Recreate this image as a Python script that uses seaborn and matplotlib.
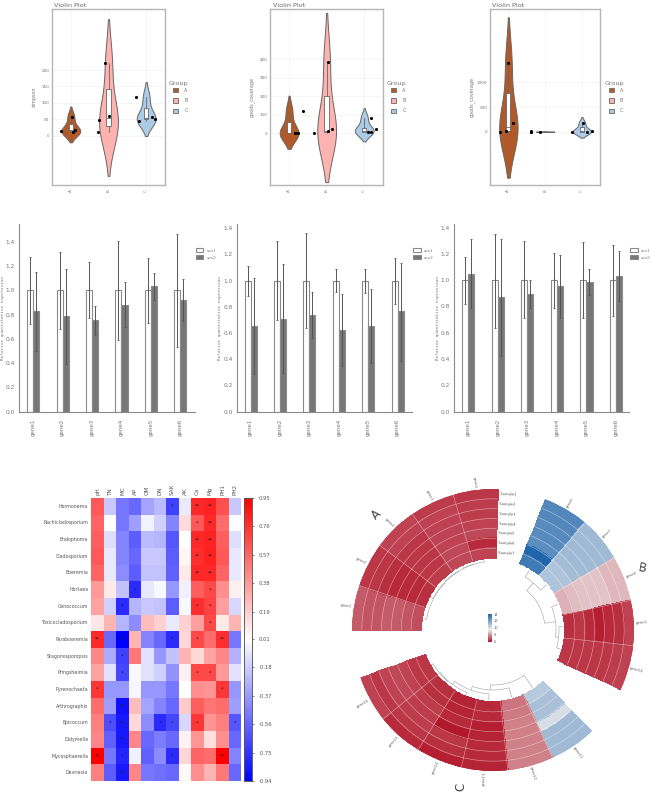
import numpy as np
import pandas as pd
import matplotlib
matplotlib.use("Agg")
import matplotlib.pyplot as plt
from matplotlib.colors import LinearSegmentedColormap, Normalize
from matplotlib.cm import ScalarMappable
from matplotlib.patches import Patch
import seaborn as sns

# ---------- data: violins ----------
groups = ["A", "B", "C"]
group_colors = ["#b15928", "#ffb3b0", "#abcbe6"]
v1_label = "simpson"
v1_values = [[14, 58, 11, 17], [223, 48, 10, 60], [117, 46, 56, 51]]
v1_jitter = [[-.27, .03, .05, .11], [-.10, -.24, -.28, .01], [-.28, -.19, .15, .23]]
v1_box = [[14, 17, 36, 11, 58], [30, 55, 141, 10, 223], [50, 55, 86, 46, 117]]
v1_ticks = [0, 50, 100, 150, 200]
v1_ylim = [-150, 386]
v2_label = "goods_coverage"
v2_values = [[0, 2, 120, 0], [0, 387, 12, 22], [85, 8, 8, 23]]
v2_jitter = [[.16, .24, .38, .16], [-.33, .04, .04, .13], [.17, .09, .18, .31]]
v2_box = [[0, 2, 60, 0, 120], [5, 12, 204, 0, 387], [8, 12, 30, 8, 85]]
v2_ticks = [0, 100, 200, 300, 400]
v2_ylim = [-279, 672]
v3_label = "goods_coverage"
v3_values = [[0, 20, 1385, 182], [0, 0, 0, 5], [0, 176, 0, 10]]
v3_jitter = [[-.23, -.07, -.01, .13], [-.38, -.38, -.14, -.38], [-.26, .03, .15, .27]]
v3_box = [[14, 100, 777, 0, 1385], [0, 0, 0, 0, 0], [0, 5, 100, 0, 176]]
v3_ticks = [0, 500, 1000]
v3_ylim = [-1079, 2484]

# ---------- data: bars ----------
genes = ["gene1", "gene2", "gene3", "gene4", "gene5", "gene6"]
series = ["ses1", "ses2"]
b_ref = [1, 1, 1, 1, 1, 1]
b1_mean = [.83, .785, .755, .88, 1.035, .92]
b1_ref_hi = [1.275, 1.32, 1.235, 1.405, 1.27, 1.465]
b1_ref_lo = [.725, .68, .77, .595, .73, .535]
b1_hi = [1.155, 1.18, .875, 1.07, 1.145, 1.09]
b1_lo = [.5, .39, .635, .695, .92, .745]
b2_mean = [.655, .71, .735, .62, .655, .765]
b2_ref_hi = [1.115, 1.30, 1.365, 1.086, 1.09, 1.175]
b2_ref_lo = [.88, .70, .635, .91, .908, .82]
b2_hi = [1.02, 1.125, .91, .896, .934, 1.137]
b2_lo = [.285, .295, .56, .346, .369, .387]
b3_mean = [1.05, .87, .895, .955, .985, 1.035]
b3_ref_hi = [1.175, 1.355, 1.295, 1.205, 1.29, 1.27]
b3_ref_lo = [.82, .64, .71, .79, .71, .73]
b3_hi = [1.31, 1.31, 1.005, 1.19, 1.085, 1.22]
b3_lo = [.785, .425, .785, .71, .885, .845]

# ---------- data: correlation heatmap ----------
hm_cols = ["pH", "TN", "MC", "AP", "OM", "DN", "SAK", "AK", "Ca", "Mg", "PH1", "PH2"]
hm_rows = ["Hormonema", "Rachicladosporium", "Endophoma", "Cladosporium", "Boeremia", "Hortaea",
           "Cenococcum", "Toxicocladosporium", "Paraboeremia", "Stagonosporopsis", "Pringsheimia",
           "Pyrenochaeta", "Arthrographis", "Epicoccum", "Didymella", "Mycosphaerella", "Devriesia"]
hm_vals = [
    [.62, -.2, -.5, -.55, -.33, -.25, -.7, -.07, .8, .82, .65, -.2],
    [.58, .0, -.5, -.35, -.04, -.17, -.45, .14, .62, .8, .55, .0],
    [.6, -.12, -.45, -.6, -.25, -.27, -.62, .0, .8, .82, .6, -.12],
    [.62, -.08, -.45, -.55, -.2, -.2, -.6, .04, .78, .83, .62, -.08],
    [.58, -.08, -.42, -.6, -.22, -.22, -.58, .08, .8, .8, .58, -.08],
    [.38, .08, -.22, -.78, -.08, -.02, -.38, -.05, .6, .68, .42, .06],
    [.35, -.17, -.78, -.27, -.2, -.22, -.6, -.02, .78, .7, .36, -.15],
    [.1, .28, -.27, -.42, .25, .18, -.07, .18, .36, .68, .08, .28],
    [.8, -.55, -.94, .28, -.45, -.55, -.78, .16, .68, .55, .78, -.5],
    [.45, -.3, -.7, .5, -.1, -.38, -.22, .28, .15, .35, .45, -.28],
    [.35, -.1, -.68, -.02, -.1, -.17, -.4, .06, .68, .68, .38, -.1],
    [.75, -.38, -.38, -.03, -.38, -.38, -.5, .0, .42, .4, .75, -.38],
    [.55, -.35, -.88, .25, -.33, -.45, -.55, .2, .6, .52, .55, -.35],
    [.48, -.65, -.85, .15, -.42, -.78, -.68, -.15, .75, .4, .48, -.62],
    [.45, -.58, -.85, .45, -.55, -.48, -.55, .05, .4, .13, .42, -.55],
    [.95, -.5, -.8, -.05, -.58, -.42, -.78, .16, .58, .55, .95, -.45],
    [.48, -.6, -.85, .45, -.5, -.52, -.55, .03, .42, .28, .5, -.55],
]
hm_stars = [
    ["", "", "", "", "", "", "*", "", "**", "**", "", ""],
    ["", "", "", "", "", "", "", "", "*", "**", "", ""],
    ["", "", "", "", "", "", "", "", "**", "**", "", ""],
    ["", "", "", "", "", "", "", "", "**", "**", "", ""],
    ["", "", "", "", "", "", "", "", "**", "**", "", ""],
    ["", "", "", "*", "", "", "", "", "", "*", "", ""],
    ["", "", "*", "", "", "", "", "", "*", "*", "", ""],
    ["", "", "", "", "", "", "", "", "", "*", "", ""],
    ["**", "", "**", "", "", "", "*", "", "*", "", "**", ""],
    ["", "", "*", "", "", "", "", "", "", "", "", ""],
    ["", "", "*", "", "", "", "", "", "*", "*", "", ""],
    ["*", "", "", "", "", "", "", "", "", "", "*", ""],
    ["", "", "**", "", "", "", "", "", "", "", "", ""],
    ["", "*", "**", "", "", "*", "*", "", "*", "", "", "*"],
    ["", "", "**", "", "", "", "", "", "", "", "", ""],
    ["**", "", "*", "", "", "", "*", "", "", "", "**", ""],
    ["", "", "**", "", "", "", "", "", "", "", "", ""],
]
hm_ticks = [.95, .76, .57, .38, .19, .01, -.18, -.37, -.56, -.75, -.94]

# ---------- data: circular heatmap (columns = genes, each outer -> inner ring) ----------
samples = ["Sample%d" % i for i in range(1, 8)]
ca_genes = ["gene5", "gene2", "gene4", "gene3", "gene1"]
ca_vals = [
    [7.1, 7.0, 7.0, 7.1, 7.1, 7.0, 6.9],
    [6.5, 6.5, 6.4, 6.3, 6.3, 6.3, 6.4],
    [6.7, 6.7, 6.5, 6.5, 6.5, 6.5, 6.6],
    [6.6, 6.7, 6.7, 6.7, 6.7, 6.8, 6.8],
    [6.5, 6.6, 6.6, 6.7, 6.8, 6.3, 6.7],
]
cb_genes = ["gene6", "gene7", "gene8", "gene9", "gene10"]
cb_vals = [
    [12.9, 12.9, 12.8, 12.8, 12.7, 14.0, 13.3],
    [11.2, 11.2, 11.2, 11.2, 11.1, 10.9, 10.9],
    [8.6, 8.6, 8.8, 8.8, 8.8, 8.7, 8.5],
    [6.7, 6.4, 6.3, 6.1, 6.3, 6.5, 6.4],
    [6.7, 6.6, 6.5, 6.5, 6.5, 6.5, 6.5],
]
cc_genes = ["gene11", "gene12", "gene13", "gene14", "gene15", "gene16"]
cc_vals = [
    [11.2, 11.2, 11.2, 10.0, 11.0, 11.0, 10.7],
    [7.7, 7.7, 7.7, 7.7, 7.7, 7.6, 7.5],
    [6.2, 6.3, 6.3, 6.2, 6.1, 6.3, 6.3],
    [6.1, 6.4, 6.5, 6.0, 6.3, 6.2, 6.2],
    [6.3, 6.5, 6.6, 6.6, 6.6, 6.4, 6.4],
    [6.7, 6.5, 6.7, 6.8, 6.7, 6.5, 6.5],
]
circ_cbar_ticks = [6, 8, 10, 12, 14]
# dendrograms: nested (left, right, radius), leaves are column indices
ca_tree = (0, (1, (2, (3, 4, 68.6), 68.2), 67.8), 67.2)
cb_tree = ((0, 1, 62), (2, (3, 4, 66), 63), 52)
cc_tree = (0, (1, (2, (3, (4, 5, 68.6), 67.8), 64), 60), 55)

W, H = 654, 793
sns.set_style("white")
plt.rcParams["font.family"] = ["DejaVu Sans"]
fig = plt.figure(figsize=(W / 100, H / 100), dpi=100, facecolor="white")


def axpx(x0, y0, x1, y1, **kw):
    return fig.add_axes([x0 / W, 1 - y1 / H, (x1 - x0) / W, (y1 - y0) / H], **kw)


TXT = "#777777"


def violin_panel(box, values, jitter, stats, label, ticks, ylim, lab_x):
    ax = axpx(*box)
    df = pd.DataFrame({"group": [g for g, v in zip(groups, values) for _ in v],
                       "value": [x for v in values for x in v],
                       "pos": [i + j for i, jj in enumerate(jitter) for j in jj]})
    sns.violinplot(data=df, x="group", y="value", hue="group", order=groups, hue_order=groups,
                   palette=group_colors, inner=None, cut=1.85, width=.5, density_norm="width",
                   linewidth=.7, linecolor="#666666", saturation=1, legend=False, ax=ax)
    bstats = [dict(q1=s[0], med=s[1], q3=s[2], whislo=s[3], whishi=s[4]) for s in stats]
    ax.bxp(bstats, positions=[0, 1, 2], widths=.115, patch_artist=True, showcaps=False,
           showfliers=False, manage_ticks=False, zorder=3,
           boxprops=dict(facecolor="white", edgecolor="#666666", linewidth=.6),
           medianprops=dict(color="#666666", linewidth=.6),
           whiskerprops=dict(color="#666666", linewidth=.6))
    sns.scatterplot(data=df, x="pos", y="value", color="black", s=5, linewidth=0, zorder=5,
                    legend=False, ax=ax)
    ax.set_xlim(-.5, 2.5)
    ax.set_ylim(*ylim)
    ax.set_yticks(ticks)
    ax.set_xticks([0, 1, 2])
    ax.set_xticklabels(groups, rotation=90, fontsize=3, color=TXT)
    ax.set_xlabel("")
    ax.set_ylabel(label, fontsize=3.5, color=TXT)
    ax.yaxis.set_label_coords((lab_x - box[0]) / (box[2] - box[0]), .5)
    ax.tick_params(axis="y", labelsize=3, labelcolor=TXT, length=1.2, width=.4, color="#bbbbbb", pad=.8)
    ax.tick_params(axis="x", length=1.2, width=.4, color="#bbbbbb", pad=2)
    ax.grid(True, color="#f2f2f2", linewidth=.5)
    ax.set_axisbelow(True)
    for s in ax.spines.values():
        s.set_color("#b5b5b5")
        s.set_linewidth(1.0)
    fig.text((box[0] + 2.5) / W, 1 - 5.5 / H, "Violin Plot", fontsize=4.6, color="#666666", va="center")
    fig.text((box[2] + 4) / W, 1 - 83 / H, "Group", fontsize=4.6, color=TXT, va="center")
    hs = [Patch(facecolor=c, edgecolor="#777777", linewidth=.7) for c in group_colors]
    ax.legend(hs, groups, frameon=False, fontsize=3.6, loc="upper left",
              bbox_to_anchor=((box[2] + 8.3) / W, 1 - 87.5 / H), bbox_transform=fig.transFigure,
              borderaxespad=0, handlelength=1, handleheight=1, labelspacing=1.1,
              handletextpad=1.2, labelcolor=TXT, borderpad=0)
    return ax


violin_panel((52, 9, 165, 185), v1_values, v1_jitter, v1_box, v1_label, v1_ticks, v1_ylim, 37)
violin_panel((270.3, 9, 383, 185), v2_values, v2_jitter, v2_box, v2_label, v2_ticks, v2_ylim, 255)
violin_panel((490, 9, 600.3, 185), v3_values, v3_jitter, v3_box, v3_label, v3_ticks, v3_ylim, 474.3)


def bar_panel(box, ylim, mean, rhi, rlo, hi, lo, x_off):
    ax = axpx(*box)
    df = pd.DataFrame({"gene": genes * 2, "grp": [series[0]] * 6 + [series[1]] * 6, "val": b_ref + mean})
    sns.barplot(data=df, x="gene", y="val", hue="grp", order=genes, palette=["white", "#777777"],
                width=.41, gap=0, edgecolor="#8a8a8a", linewidth=.8, saturation=1, errorbar=None, ax=ax)
    for cont, h, l in zip(ax.containers, [rhi, hi], [rlo, lo]):
        xs = [b.get_x() + b.get_width() / 2 for b in cont]
        ys = [b.get_height() for b in cont]
        ax.errorbar(xs, ys, yerr=[np.array(ys) - np.array(l), np.array(h) - np.array(ys)], fmt="none",
                    ecolor="#555555", elinewidth=.7, capsize=1.0, capthick=.6, zorder=4)
    ax.set_xlim(*x_off)
    ax.set_ylim(*ylim)
    ax.set_yticks(np.arange(0, 1.41, .2))
    ax.set_yticklabels(["%.1f" % t for t in np.arange(0, 1.41, .2)])
    ax.set_xlabel("")
    ax.set_ylabel("Relative quantitative expression", fontsize=3.2, color=TXT,
                  family="DejaVu Sans Mono", labelpad=0)
    ax.yaxis.set_label_coords(-.082, .5)
    ax.tick_params(axis="y", labelsize=4.2, labelcolor=TXT, length=2, width=.6, color="#999999", pad=1)
    ax.tick_params(axis="x", labelsize=4, labelcolor=TXT, length=2, width=.6, color="#999999", pad=3, rotation=90)
    sns.despine(ax=ax)
    for s in ("left", "bottom"):
        ax.spines[s].set_color("#8a8a8a")
        ax.spines[s].set_linewidth(.8)
    leg = ax.legend(frameon=False, loc="upper left", bbox_to_anchor=((box[2] + .7) / W, 1 - 248.3 / H),
                    bbox_transform=fig.transFigure,
                    borderaxespad=0, borderpad=0, handlelength=1.7, handleheight=1.0,
                    labelspacing=.55, handletextpad=.7, prop={"family": "DejaVu Serif", "size": 3.2})
    for t in leg.get_texts():
        t.set_color(TXT)
    return ax


bar_panel((19.3, 224.3, 195, 411.7), (0, 1.545), b1_mean, b1_ref_hi, b1_ref_lo, b1_hi, b1_lo, (-.476, 5.5))
bar_panel((236.7, 224.3, 412.3, 411.7), (0, 1.43), b2_mean, b2_ref_hi, b2_ref_lo, b2_hi, b2_lo, (-.475, 5.5))
bar_panel((454, 224.3, 629.3, 411.7), (0, 1.425), b3_mean, b3_ref_hi, b3_ref_lo, b3_hi, b3_lo, (-.485, 5.45))

# ---------- heatmap ----------
hax = axpx(91.3, 498, 241.3, 781)
cax = axpx(243.7, 498, 252.3, 781)
hdf = pd.DataFrame(hm_vals, index=hm_rows, columns=hm_cols)
sns.heatmap(hdf, cmap="bwr", vmin=-.94, vmax=.95, annot=np.array(hm_stars), fmt="",
            annot_kws={"fontsize": 3.6, "color": "#222222"}, ax=hax, cbar_ax=cax, linewidths=0,
            xticklabels=True, yticklabels=True)
hax.xaxis.tick_top()
hax.set_xticklabels(hm_cols, rotation=90, fontsize=4.1, color="#555555")
hax.set_yticklabels(hm_rows, rotation=0, fontsize=3.4, color="#555555")
hax.tick_params(length=0, pad=2.2)
cax.set_yticks(hm_ticks)
cax.set_yticklabels(["%.2f" % t for t in hm_ticks], fontsize=3.8, color="#555555")
cax.tick_params(length=1.5, width=.5, color="#555555", pad=3)
for s in cax.spines.values():
    s.set_visible(True)
    s.set_color("#555555")
    s.set_linewidth(.5)

# ---------- circular heatmap ----------
circ_cmap = LinearSegmentedColormap.from_list(
    "circ", [(0, "#b2182b"), (.4375, "#eeeeee"), (1, "#2166ac")])
circ_norm = Normalize(6, 14)
pax = axpx(352, 489, 634, 771, polar=True)
pax.axis("off")
R_IN, R_OUT = 72.0, 141.0
RW = (R_OUT - R_IN) / 7
SEP = "#ffffff"
SEP_A = .55


def sector(start, step, vals, names, tree):
    """start/step in degrees, going clockwise"""
    centres = []
    r_edges = R_OUT - RW * np.arange(8)
    ncol = len(vals)
    for i, col in enumerate(vals):
        a0, a1 = start - step * i, start - step * (i + 1)
        th = (a0 + a1) / 2
        centres.append(th)
        t_edges = np.radians(np.linspace(a0, a1, 16))
        T, R = np.meshgrid(t_edges, r_edges)
        C = np.tile(np.array(col)[:, None], (1, 15))
        pax.pcolormesh(T, R, C, cmap=circ_cmap, norm=circ_norm, shading="flat",
                       edgecolors="face", linewidth=.15)
        if i > 0:
            pax.plot(np.radians([a0, a0]), [R_IN, R_OUT], color=SEP, alpha=SEP_A, lw=.4, zorder=3)
        rot = th % 360
        rot = rot - 180 if 90 < rot < 270 else rot
        pax.text(np.radians(th), 149, names[i], fontsize=2.7, color="#666666", rotation=rot,
                 rotation_mode="anchor", ha="center", va="center")
    t_all = np.radians(np.linspace(start, start - step * ncol, 120))
    for r in r_edges[1:-1]:
        pax.plot(t_all, np.full_like(t_all, r), color=SEP, alpha=SEP_A, lw=.4, zorder=3)

    def arc(a, b, r):
        t = np.radians(np.linspace(a, b, 30))
        pax.plot(t, np.full_like(t, r), color="#a0a0a0", lw=.4)

    def radial(a, r0, r1):
        pax.plot(np.radians([a, a]), [r0, r1], color="#a0a0a0", lw=.4)

    def walk(node):
        if isinstance(node, int):
            return centres[node], 70.0
        a1, r1 = walk(node[0])
        a2, r2 = walk(node[1])
        r = node[2]
        radial(a1, r1, r)
        radial(a2, r2, r)
        arc(a1, a2, r)
        return (a1 + a2) / 2, r

    walk(tree)
    return centres


sector(180, 18.4, ca_vals, ca_genes, ca_tree)
sector(68, 18.6, cb_vals, cb_genes, cb_tree)
sector(-46, 19.0, cc_vals, cc_genes, cc_tree)
for j, name in enumerate(samples):
    pax.text(np.radians(88), R_OUT - RW * (j + .5), "  " + name, fontsize=2.6, color="#555555",
             ha="left", va="center", rotation=-2, rotation_mode="anchor")
pax.set_ylim(0, 141)

for txt, px, py, rot in [("A", 376, 515, 44), ("B", 642.7, 568, -10), ("C", 460.7, 786.7, 90)]:
    fig.text(px / W, 1 - py / H, txt, fontsize=8.5, color="#444444", rotation=rot, ha="center", va="center")

ccax = axpx(488.3, 614, 492, 641.7)
cb = fig.colorbar(ScalarMappable(norm=circ_norm, cmap=circ_cmap), cax=ccax)
cb.set_ticks(circ_cbar_ticks)
cb.set_ticklabels([str(t) for t in circ_cbar_ticks])
cb.ax.tick_params(labelsize=2.6, labelcolor="#666666", length=0, pad=1)
cb.outline.set_visible(False)

fig.savefig("out.png", dpi=100)
